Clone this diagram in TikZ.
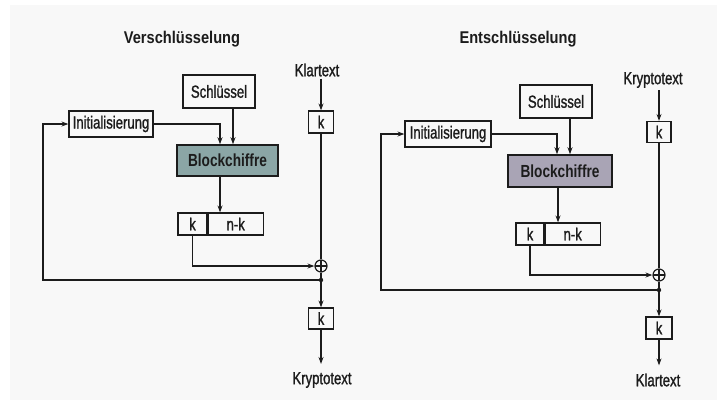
\documentclass[tikz,border=0pt]{standalone}
\usepackage{fontspec}
\setmainfont{Liberation Sans}[FakeStretch=0.75]
\newfontfamily\lblfont{Liberation Sans}[FakeStretch=0.75, FakeBold=1.2]
\newfontfamily\headfont{Liberation Sans}[FakeStretch=0.86]
\newfontfamily\bcfont{Liberation Sans}[FakeStretch=0.78]
\usepackage{tikz}
\usetikzlibrary{arrows.meta,calc}
\definecolor{ink}{HTML}{1C1C1C}
\definecolor{paper}{HTML}{F8F8F8}
\definecolor{encfill}{HTML}{8BA6A6}
\definecolor{decfill}{HTML}{A9A4B5}
\tikzset{
  box/.style={draw=ink, line width=1.2pt, inner sep=0pt, font=\lblfont\fontsize{17.5}{19}\selectfont, text=ink},
  cipher/.style={box, line width=1.5pt, font=\bcfont\fontsize{17.5}{19}\selectfont\bfseries},
  lbl/.style={font=\lblfont\fontsize{17.5}{19}\selectfont, text=ink, inner sep=2pt},
  head/.style={font=\headfont\fontsize{17}{19}\selectfont\bfseries, text=ink},
  xor/.style={circle, draw=ink, line width=1.2pt, minimum size=12pt, inner sep=0pt,
    path picture={\draw[ink, line width=1.2pt] (path picture bounding box.north) -- (path picture bounding box.south)
      (path picture bounding box.west) -- (path picture bounding box.east);}},
  wire/.style={draw=ink, line width=1.2pt},
  arr/.style={wire, -{Stealth[length=7pt,width=5pt]}},
}
\begin{document}
\begin{tikzpicture}[x=1pt, y=-1pt]
\useasboundingbox (0,0) rectangle (717,400);
\fill[white] (0,0) rectangle (717,400);
\fill[paper] (10,5) rectangle (717,400);

% Verschluesselung
\node[head] (vtitle) at (182,39) {Verschlüsselung};
\node[box, minimum width=72, minimum height=33] (vkey) at (219,91.5) {Schlüssel};
\node[lbl] (vin) at (317,70) {Klartext};
\node[box, minimum width=25, minimum height=22] (vk1) at (321,122) {k};
\node[box, minimum width=84, minimum height=26] (vinit) at (111,124) {Initialisierung};
\node[cipher, fill=encfill, minimum width=101, minimum height=31] (vbc) at (227.5,160.5) {Blockchiffre};
\node[box, minimum width=29, minimum height=22] (vregk) at (192.5,224) {k};
\node[box, minimum width=55, minimum height=22, anchor=west] (vregn) at (vregk.east) {n-k};
\node[xor] (vxor) at (321,266) {};
\coordinate (vtap) at (321,280);
\coordinate (vback) at (43,280);
\node[box, minimum width=25, minimum height=21] (vk2) at (321,318.5) {k};
\node[lbl] (vout) at (322,380) {Kryptotext};

\draw[arr] (vin.south -| vk1) -- (vk1);
\draw[wire] (vk1) -- (vxor);
\draw[wire] (vxor) -- (vtap);
\draw[arr] (vtap) -- (vk2);
\draw[arr, shorten >=6pt] (vk2) -- (vout.north -| vk2);
\draw[arr] (vkey.south -| 233,0) -- (vbc.north -| 233,0);
\draw[arr] (vinit.east) -| (vbc.north -| 220,0);
\draw[arr] (vbc.south -| 220,0) -- (vregn.north -| 220,0);
\draw[arr] (vregk.south) |- (vxor.west);
\draw[arr] (vtap) -- (vback) |- (vinit.west);
\fill[ink] (vtap) circle (2.2);

% Entschluesselung
\node[head] (etitle) at (518,39) {Entschlüsselung};
\node[box, minimum width=72, minimum height=33] (ekey) at (556,101.5) {Schlüssel};
\node[lbl] (ein) at (653,80) {Kryptotext};
\node[box, minimum width=24, minimum height=21] (ek1) at (659,132) {k};
\node[box, minimum width=86, minimum height=26] (einit) at (448,134) {Initialisierung};
\node[cipher, fill=decfill, minimum width=104, minimum height=32] (ebc) at (560,171) {Blockchiffre};
\node[box, minimum width=28, minimum height=22] (eregk) at (530,234) {k};
\node[box, minimum width=55, minimum height=22, anchor=west] (eregn) at (eregk.east) {n-k};
\node[xor] (exor) at (659,275) {};
\coordinate (etap) at (659,290);
\coordinate (eback) at (381,290);
\node[box, minimum width=26, minimum height=22] (ek2) at (659,328) {k};
\node[lbl] (eout) at (658,380) {Klartext};

\draw[arr] (ein.south -| ek1) -- (ek1);
\draw[wire] (ek1) -- (exor);
\draw[wire] (exor) -- (etap);
\draw[arr] (etap) -- (ek2);
\draw[arr, shorten >=6pt] (ek2) -- (eout.north -| ek2);
\draw[arr] (ekey.south -| 570,0) -- (ebc.north -| 570,0);
\draw[arr] (einit.east) -| (ebc.north -| 557,0);
\draw[arr] (ebc.south -| 558,0) -- (eregn.north -| 558,0);
\draw[arr] (eregk.south) |- (exor.west);
\draw[arr] (etap) -- (eback) |- (einit.west);
\fill[ink] (etap) circle (2.2);
\end{tikzpicture}
\end{document}
